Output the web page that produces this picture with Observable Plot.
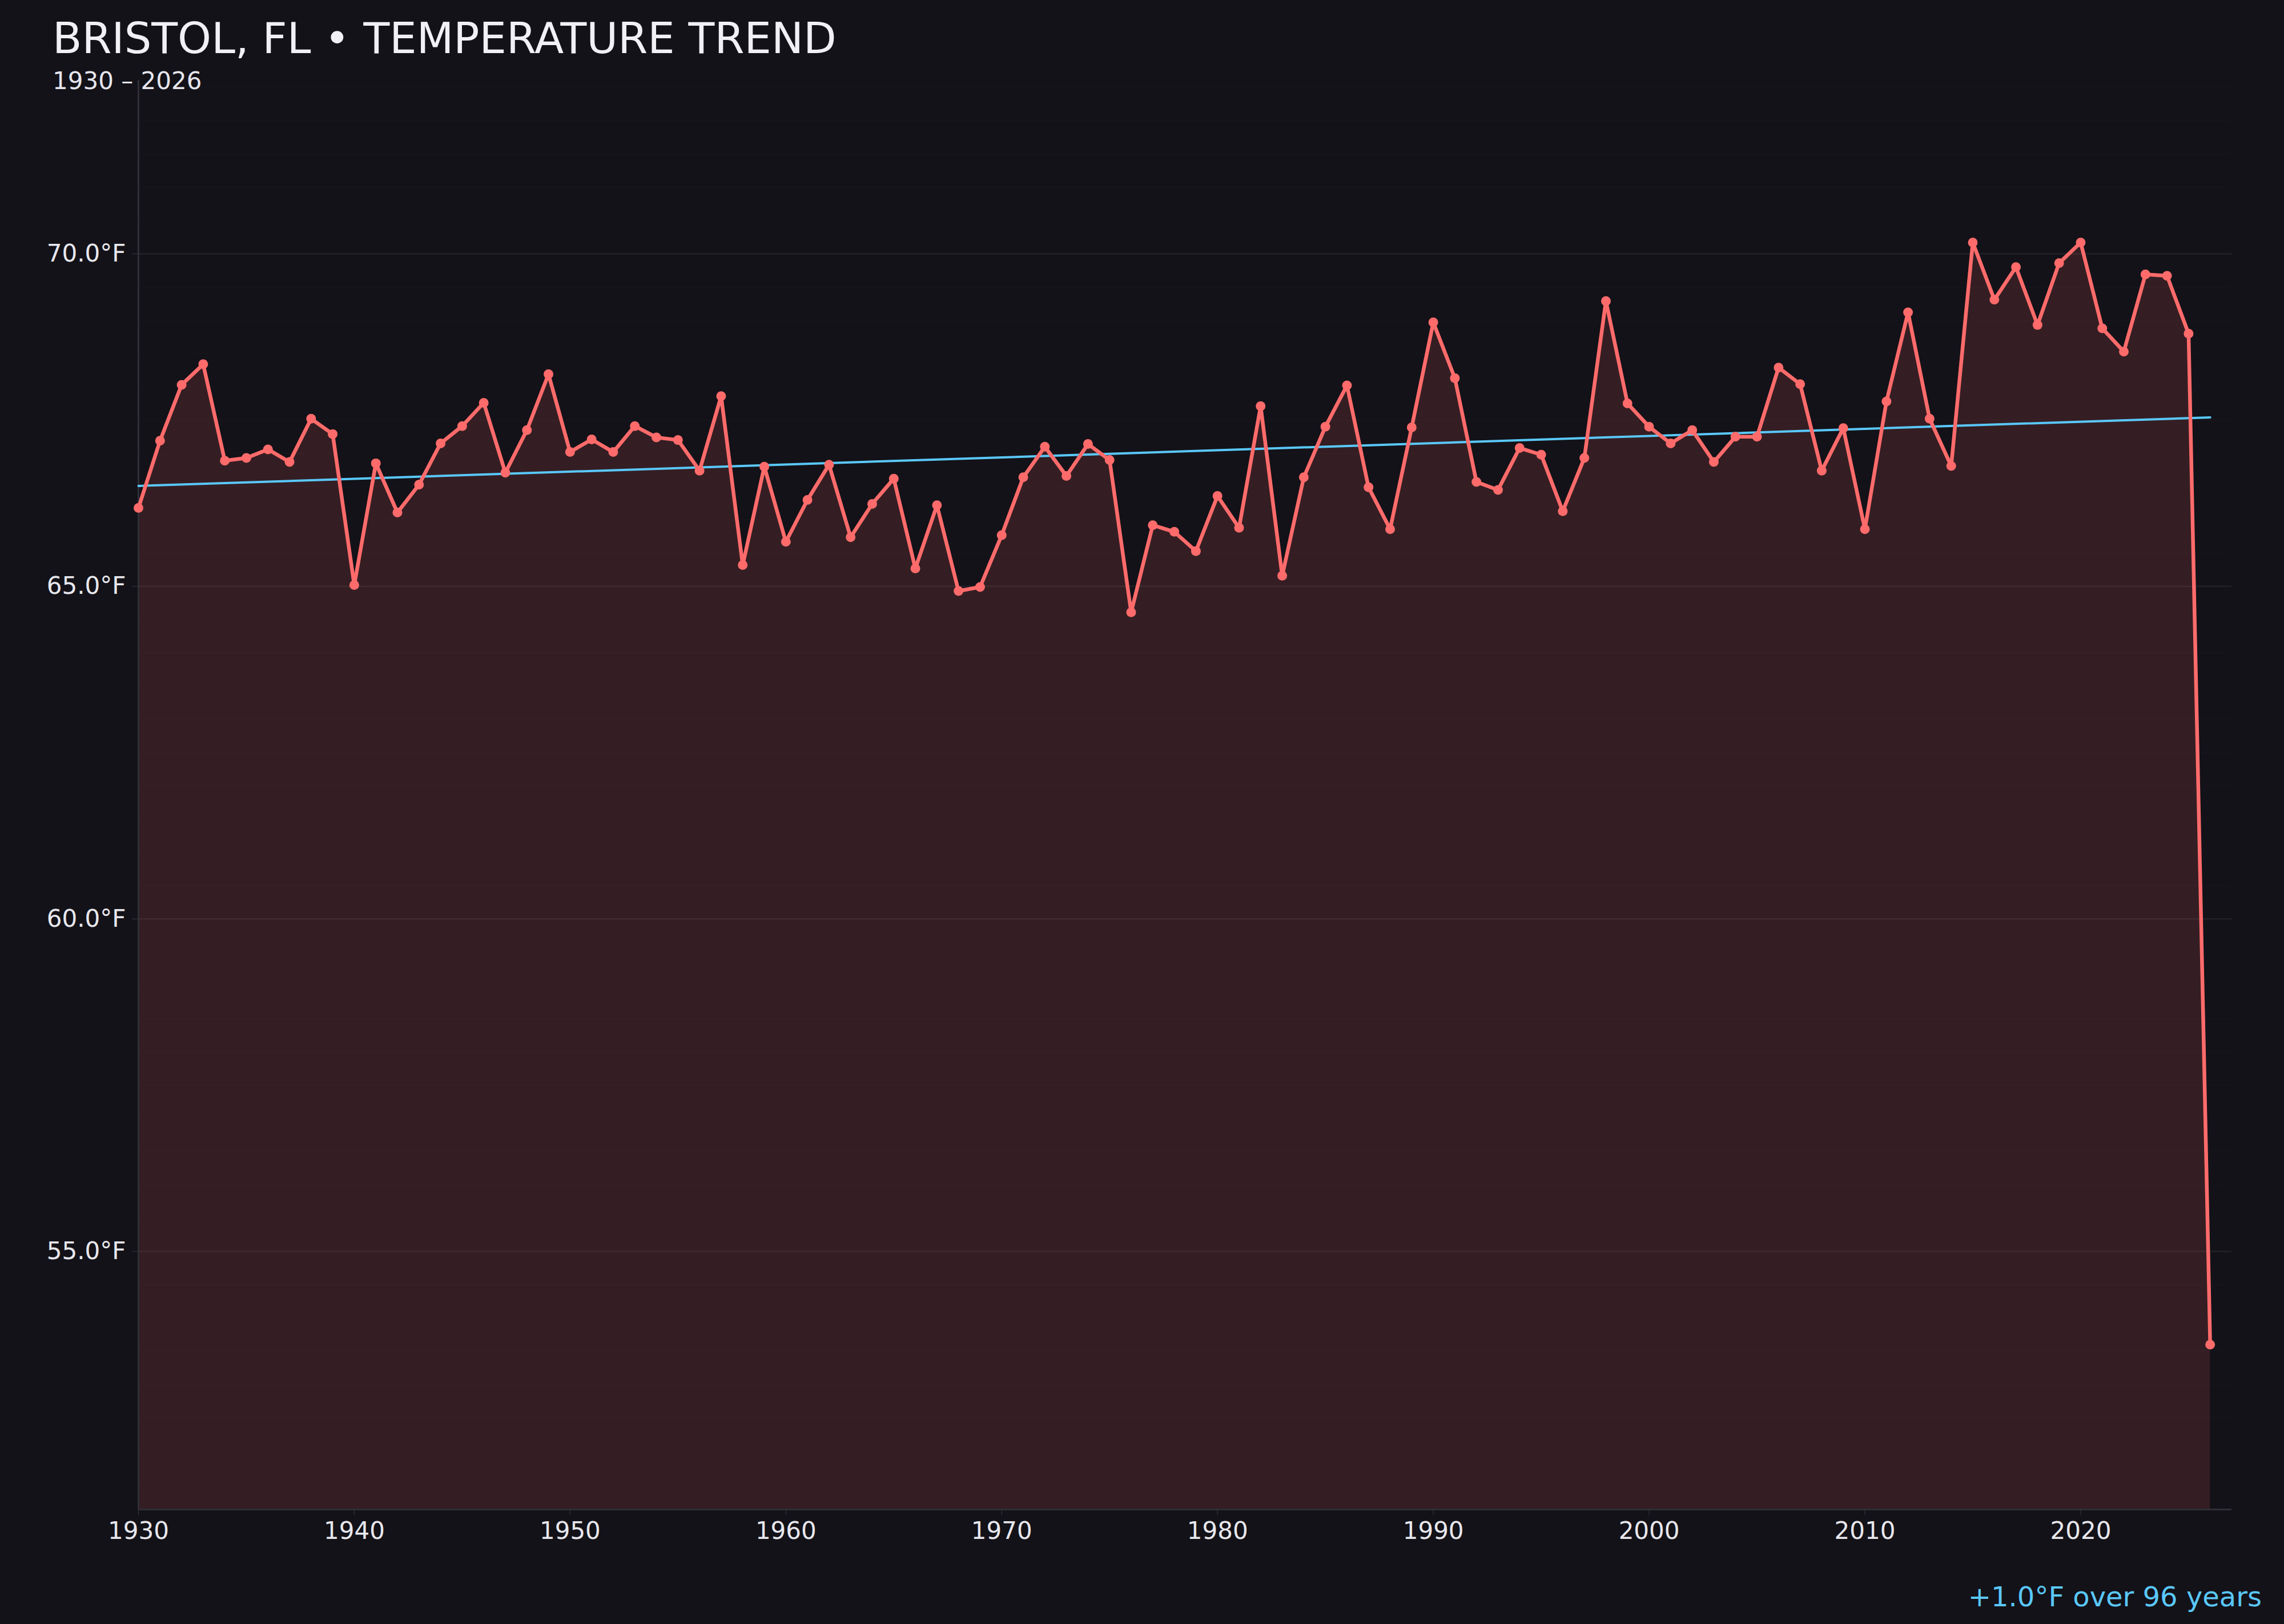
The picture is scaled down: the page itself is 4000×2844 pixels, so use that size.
<!DOCTYPE html>
<html>
<head>
<meta charset="utf-8">
<script src="https://cdn.jsdelivr.net/npm/d3@7"></script>
<script src="https://cdn.jsdelivr.net/npm/@observablehq/plot@0.6"></script>
<style>
  html, body { margin: 0; padding: 0; background: #131218; }
  #wrap { position: relative; width: 4000px; height: 2844px; background: #131218; overflow: hidden; font-family: "DejaVu Sans", sans-serif; }
  #title { position: absolute; left: 92px; top: 34px; font-size: 75px; color: #f0f0f5; white-space: nowrap; line-height: 0.88; }
  #subtitle { position: absolute; left: 92px; top: 121px; font-size: 42px; color: #e6e6ee; white-space: nowrap; line-height: 1; z-index: 2; }
  #caption { position: absolute; right: 39px; top: 2772px; font-size: 48px; color: #5ac8fa; white-space: nowrap; line-height: 1; }
  #chart { position: absolute; left: 0; top: 0; }
</style>
</head>
<body>
<div id="wrap">
  <div id="chart"></div>
  <div id="title">BRISTOL, FL • TEMPERATURE TREND</div>
  <div id="subtitle">1930 – 2026</div>
  <div id="caption">+1.0°F over 96 years</div>
</div>
<script>
const years = d3.range(1930, 2027);
const temps = [
  66.18, 67.19, 68.03, 68.34, 66.89, 66.93, 67.06, 66.87, 67.52, 67.29,
  65.02, 66.85, 66.11, 66.53, 67.15, 67.41, 67.76, 66.71, 67.35, 68.19,
  67.02, 67.21, 67.02, 67.41, 67.24, 67.20, 66.74, 67.86, 65.32, 66.80,
  65.67, 66.30, 66.83, 65.74, 66.24, 66.62, 65.27, 66.22, 64.93, 64.99,
  65.77, 66.64, 67.10, 66.66, 67.14, 66.90, 64.61, 65.92, 65.82, 65.53,
  66.36, 65.88, 67.71, 65.16, 66.64, 67.40, 68.02, 66.49, 65.86, 67.39,
  68.97, 68.13, 66.57, 66.45, 67.08, 66.98, 66.13, 66.93, 69.29, 67.75,
  67.40, 67.15, 67.35, 66.87, 67.25, 67.25, 68.29, 68.04, 66.74, 67.38,
  65.86, 67.78, 69.12, 67.52, 66.81, 70.17, 69.31, 69.80, 68.93, 69.86,
  70.17, 68.88, 68.53, 69.69, 69.67, 68.80,
  53.60
];
const trendYears = [1930, 2026];
const trendTemps = [66.51, 67.54];
const xDomain = [1930, 2027];
const yDomain = [51.12, 72.61];
const xTicks = [1930, 1940, 1950, 1960, 1970, 1980, 1990, 2000, 2010, 2020];
const yTicks = [55, 60, 65, 70];
const yMinorGrid = d3.range(51.5, 72.6, 0.5);

const data = years.map((year, i) => ({year, temp: temps[i]}));
const trend = trendYears.map((year, i) => ({year, temp: trendTemps[i]}));

const lineColor = "#ff6b6b";
const trendColor = "#5ac8fa";
const textColor = "#e8e8ee";

const chart = Plot.plot({
  width: 4000,
  height: 2844,
  marginLeft: 242,
  marginRight: 92,
  marginTop: 140,
  marginBottom: 201,
  style: { background: "transparent", fontFamily: "DejaVu Sans", fontSize: "42px", color: textColor },
  x: { domain: xDomain },
  y: { domain: yDomain },
  marks: [
    Plot.ruleY(yMinorGrid, { stroke: "#ffffff", strokeOpacity: 0.012, strokeWidth: 2.5 }),
    Plot.ruleY(yTicks, { stroke: "#ffffff", strokeOpacity: 0.06, strokeWidth: 2.5 }),
    Plot.areaY(data, { x: "year", y1: yDomain[0], y2: "temp", fill: lineColor, fillOpacity: 0.14 }),
    Plot.ruleX([xDomain[0]], { stroke: "#2f2e38", strokeWidth: 3 }),
    Plot.ruleY([yDomain[0]], { stroke: "#2f2e38", strokeWidth: 3 }),
    Plot.axisX({ ticks: xTicks, tickFormat: d => String(d), tickSize: 10, tickPadding: 12, stroke: "#3a3944", fill: textColor, label: null, fontSize: 42 }),
    Plot.axisY({ ticks: yTicks, tickFormat: d => d.toFixed(1) + "°F", tickSize: 11, tickPadding: 11, stroke: "#3a3944", fill: textColor, label: null, fontSize: 42 }),
    Plot.line(trend, { x: "year", y: "temp", stroke: trendColor, strokeWidth: 4 }),
    Plot.line(data, { x: "year", y: "temp", stroke: lineColor, strokeWidth: 6.5, strokeLinejoin: "round" }),
    Plot.dot(data, { x: "year", y: "temp", r: 8.5, fill: lineColor, stroke: "none" })
  ]
});
document.getElementById("chart").appendChild(chart);
</script>
</body>
</html>
